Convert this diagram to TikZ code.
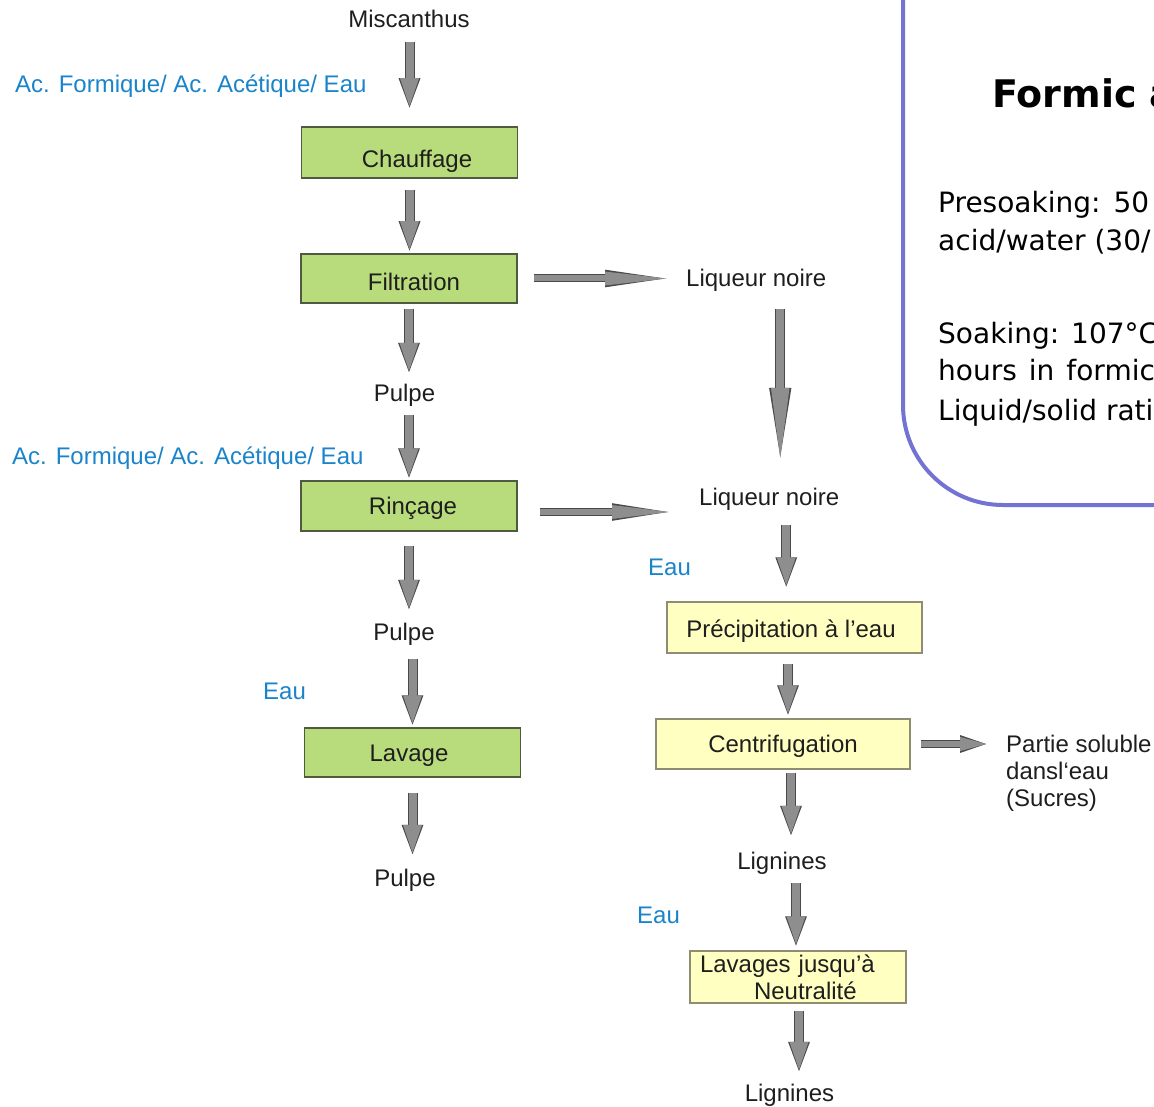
\documentclass[tikz,border=0pt]{standalone}
\usepackage{fontspec}
\setmainfont{Liberation Sans}
\newfontfamily\notefont{DejaVu Sans}
\usetikzlibrary{arrows.meta}

\definecolor{greenfill}{HTML}{B8DC7C}
\definecolor{greenedge}{HTML}{4F5A40}
\definecolor{yellowfill}{HTML}{FFFFC2}
\definecolor{yellowedge}{HTML}{8F8C74}
\definecolor{feedblue}{HTML}{1A84CA}
\definecolor{arrowgray}{HTML}{8E8E8E}
\definecolor{arrowedge}{HTML}{4A4A4A}
\definecolor{panelline}{HTML}{7373D4}
\definecolor{textdark}{HTML}{1E1E1E}

\newcommand{\lbfont}{\fontsize{24}{27}\selectfont}

\begin{document}
\begin{tikzpicture}[x=1pt, y=-1pt,
  lbl/.style={inner sep=0pt, text height=18pt, text depth=5pt, font=\lbfont, text=textdark},
  feed/.style={lbl, text=feedblue},
  procbox/.style={line width=1.5pt, inner sep=0pt, font=\lbfont, text=textdark},
  greenbox/.style={procbox, draw=greenedge, fill=greenfill, minimum width=216pt,
    minimum height=50pt, text height=#1, text depth=0pt},
  greenbox/.default=17pt,
  yellowbox/.style={procbox, draw=yellowedge, fill=yellowfill, minimum height=51pt},
  flow/.style={draw=arrowgray, line width=8pt, -{Triangle[length=#1, width=16pt]},
    preaction={draw=arrowedge, line width=10pt, -{Triangle[length=#1, width=19pt]}}},
  flow/.default=32pt,
  slimflow/.style={draw=arrowgray, line width=6pt, -{Triangle[length=#1, width=12pt]},
    preaction={draw=arrowedge, line width=8pt, -{Triangle[length=#1, width=15pt]}}},
  slimflow/.default=60pt,
  panel/.style={draw=panelline, line width=4pt, rounded corners=100pt},
  note/.style={inner sep=0pt, font=\notefont\fontsize{28}{38}\selectfont, text=black},
]
  % Page frame
  \useasboundingbox (0,0) rectangle (1154,1107);
  \clip (0,0) rectangle (1154,1107);

  % Left column
  \node[lbl, anchor=base] (misc) at (409,28) {Miscanthus};
  \node[feed, anchor=base west] (acidA) at (15,93) {Ac. Formique/ Ac. Acétique/ Eau};
  \node[greenbox=30pt, minimum height=51pt] (chauf) at (409.5,152.5) {\hspace*{15pt}Chauffage};
  \node[greenbox=24pt, minimum height=49pt] (filt) at (409,278.5) {\hspace*{10pt}Filtration};
  \node[lbl, anchor=base] (pulpeA) at (404.5,401) {Pulpe};
  \node[feed, anchor=base west] (acidB) at (12,464) {Ac. Formique/ Ac. Acétique/ Eau};
  \node[greenbox] (rinc) at (409,506) {\hspace*{8pt}Rinçage};
  \node[lbl, anchor=base] (pulpeB) at (404,640) {Pulpe};
  \node[feed, anchor=base west] (eauA) at (263,699) {Eau};
  \node[greenbox, minimum height=49pt] (lav) at (412.5,752.5) {Lavage\hspace*{7pt}};
  \node[lbl, anchor=base] (pulpeC) at (405,886) {Pulpe};

  % Right column
  \node[lbl, anchor=base west] (liqA) at (686,287) {Liqueur noire};
  \node[lbl, anchor=base west] (liqB) at (699,505) {Liqueur noire};
  \node[feed, anchor=base west] (eauB) at (648,575) {Eau};
  \node[yellowbox, minimum width=255pt, text height=20pt, text depth=0pt] (prec) at (794.5,627.5) {Précipitation à l'eau\hspace*{7pt}};
  \node[yellowbox, minimum width=254pt, minimum height=50pt, text height=17pt, text depth=0pt] (centr) at (783,744) {Centrifugation};
  \node[inner sep=0pt, font=\lbfont, text=textdark, align=left, anchor=north west] (sol) at (1006,734.5) {Partie soluble\\dansl`eau\\(Sucres)};
  \node[lbl, anchor=base] (ligA) at (782,869) {Lignines};
  \node[feed, anchor=base west] (eauC) at (637,923) {Eau};
  \node[yellowbox, minimum width=216pt, minimum height=52pt, text width=196pt, align=left] (lavn) at (798,977) {Lavages jusqu’à\\\hspace*{54pt}Neutralité};
  \node[lbl, anchor=base] (ligB) at (789.5,1101) {Lignines};

  % Left arrows
  \draw[flow, shorten <=9pt, shorten >=16pt] (chauf.north |- misc.south) -- (chauf.north);
  \draw[flow, shorten <=11pt] (chauf.south) -- (chauf.south |- filt.north);
  \draw[flow, shorten <=5pt, shorten >=8pt] (filt.south) -- (filt.south |- pulpeA.north);
  \draw[flow, shorten <=9pt] (rinc.north |- pulpeA.south) -- (rinc.north);
  \draw[flow, shorten <=14pt, shorten >=10pt] (rinc.south) -- (rinc.south |- pulpeB.north);
  \draw[flow, shorten <=14pt] (lav.north |- pulpeB.south) -- (lav.north);
  \draw[flow, shorten <=15pt, shorten >=11pt] (lav.south) -- (lav.south |- pulpeC.north);

  % Side arrows
  \draw[slimflow=70pt, shorten <=16pt, shorten >=11pt] (filt.east) -- (filt.east -| liqA.west);
  \draw[slimflow=65pt, shorten <=22pt, shorten >=22pt] ([yshift=-6pt]rinc.east) -- ([yshift=-6pt]rinc.east -| liqB.west);
  \draw[slimflow=30pt, shorten <=10pt, shorten >=16pt] (centr.east) -- (centr.east -| sol.west);

  % Right arrows
  \draw[flow=80pt, shorten <=17pt, shorten >=19pt] ([xshift=24pt]liqA.south) -- ([xshift=24pt]liqA.south |- liqB.north);
  \draw[flow, shorten <=15pt, shorten >=12pt] ([xshift=17pt]liqB.south) -- ([xshift=17pt]liqB.south |- prec.north);
  \draw[flow, shorten <=10pt, shorten >=1pt] ([xshift=-6.5pt]prec.south) -- ([xshift=-6.5pt]prec.south |- centr.north);
  \draw[flow, shorten <=3pt, shorten >=13pt] ([xshift=8pt]centr.south) -- ([xshift=8pt]centr.south |- ligA.north);
  \draw[flow, shorten <=9pt, shorten >=2pt] ([xshift=14pt]ligA.south) -- ([xshift=14pt]ligA.south |- lavn.north);
  \draw[flow, shorten <=7pt, shorten >=9pt] ([xshift=1pt]lavn.south) -- ([xshift=1pt]lavn.south |- ligB.north);

  % Panel
  \draw[panel] (903,-40) -- (903,505) -- (1250,505);
  \node[note, anchor=base west, font=\notefont\bfseries\fontsize{38}{38}\selectfont] (ptitle) at (992,108) {Formic a};
  \node[note, anchor=base west] (presoakA) at (938,213) {Presoaking:\hspace{13pt}50};
  \node[note, anchor=base west] (presoakB) at (938,251) {acid/water\hspace{9pt}(30/};
  \node[note, anchor=base west] (soakA) at (938,343) {Soaking:\hspace{12pt}107°C};
  \node[note, anchor=base west] (soakB) at (938,381) {hours\hspace{12pt}in\hspace{12pt}formic};
  \node[note, anchor=base west] (soakC) at (938,420) {Liquid/solid rati};
\end{tikzpicture}
\end{document}
